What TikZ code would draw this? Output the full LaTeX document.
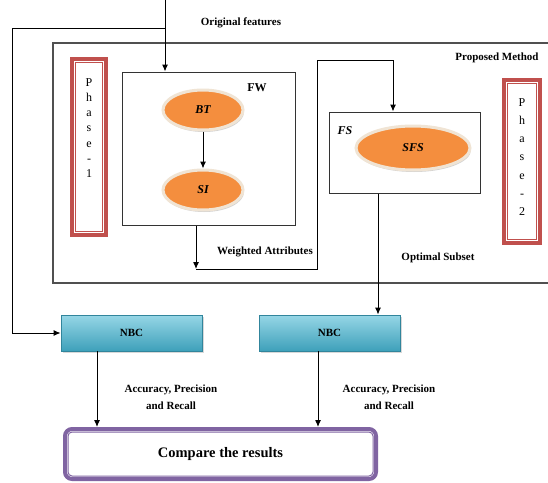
\documentclass[tikz,border=0pt]{standalone}
\usepackage{fontspec}
\setmainfont{Liberation Serif}
\usetikzlibrary{arrows.meta,shapes.geometric,shadows,calc}
\definecolor{orng}{RGB}{244,142,62}
\definecolor{rim}{RGB}{240,228,212}
\definecolor{phred}{RGB}{192,80,77}
\definecolor{purp}{RGB}{128,100,162}
\definecolor{tealL}{RGB}{150,214,230}
\definecolor{tealD}{RGB}{62,160,186}
\definecolor{tealB}{RGB}{49,133,156}
\definecolor{frame}{RGB}{80,80,80}
\begin{document}
\begin{tikzpicture}[x=1pt,y=-1pt,
  arr/.style={-{Latex[length=7pt,width=6pt]}, line width=1pt},
  ln/.style={line width=1pt},
  lbl/.style={font=\fontsize{11}{13}\selectfont\bfseries, inner sep=0pt, align=center},
  oval/.style={ellipse, fill=orng, draw=rim, line width=3pt, inner sep=0pt,
     font=\fontsize{12}{14}\selectfont\bfseries\itshape,
     drop shadow={shadow xshift=1pt, shadow yshift=-2pt, fill=black!35}},
  pbox/.style={draw=black!80, line width=1pt, fill=white, inner sep=0pt},
  phbox/.style={draw=phred, line width=4.5pt, fill=white, inner sep=0pt},
  nbc/.style={top color=tealL, bottom color=tealD, draw=tealB, line width=0.8pt,
     inner sep=0pt, minimum width=141pt, minimum height=36pt,
     font=\fontsize{11}{13}\selectfont\bfseries,
     drop shadow={shadow xshift=1.5pt, shadow yshift=-1.5pt, fill=black!30}},
  cmp/.style={draw=purp, line width=4pt, rounded corners=7pt, fill=white, inner sep=0pt,
     minimum width=311pt, minimum height=50pt, font=\fontsize{14.5}{17}\selectfont\bfseries},
  phtxt/.style={inner sep=0pt, align=center}
]
\useasboundingbox (0,0) rectangle (548,482);

% proposed method frame (open to the right)
\coordinate (pmTR) at (548,43);
\coordinate (pmTL) at (53,43);
\coordinate (pmBL) at (53,283);
\coordinate (pmBR) at (548,283);
\draw[draw=frame, line width=1.2pt] (pmTR) -- (pmTL) -- (pmBL) -- (pmBR);

% phase boxes
\node[phbox, minimum width=34pt, minimum height=176pt] (ph1) at (89,147) {};
\draw[phred, line width=1pt] ($(ph1.north west)+(5.5pt,-5.5pt)$) rectangle ($(ph1.south east)+(-5.5pt,5.5pt)$);
\node[phtxt, font=\fontsize{12}{15.3}\selectfont] (ph1t) at (89,128) {P\\h\\a\\s\\e\\-\\1};

\node[phbox, minimum width=36pt, minimum height=163pt] (ph2) at (522,161.5) {};
\draw[phred, line width=1pt] ($(ph2.north west)+(5.5pt,-5.5pt)$) rectangle ($(ph2.south east)+(-5.5pt,5.5pt)$);
\node[phtxt, font=\fontsize{12}{18.3}\selectfont] (ph2t) at (522,157) {P\\h\\a\\s\\e\\-\\2};

% FW box
\node[pbox, minimum width=173pt, minimum height=153pt] (fw) at (208.5,148.5) {};
\node[lbl, font=\fontsize{12}{14}\selectfont\bfseries] (fwl) at (257,88) {FW};
\node[oval, minimum width=80pt, minimum height=40pt] (bt) at (203,110) {BT};
\node[oval, minimum width=80pt, minimum height=40pt] (si) at (203,190) {SI};
\draw[arr] (bt) -- (si);

% FS box
\node[pbox, minimum width=151pt, minimum height=81pt] (fs) at (404.5,152.5) {};
\node[lbl, font=\fontsize{12}{14}\selectfont\bfseries\itshape] (fsl) at (345,131) {FS};
\node[oval, minimum width=114pt, minimum height=44pt] (sfs) at (413,148) {SFS};

% NBC boxes
\node[nbc] (nbc1) at (131.5,333) {NBC};
\node[nbc] (nbc2) at (329.5,333) {NBC};

% compare box
\node[cmp] (cmp) at (220.5,454) {Compare the results};
\draw[purp, line width=1pt, rounded corners=4pt] ($(cmp.north west)+(5pt,-5pt)$) rectangle ($(cmp.south east)+(-5pt,5pt)$);

% labels
\node[lbl] (of) at (241,23) {Original features};
\node[lbl] (pm) at (497,58) {Proposed Method};
\node[lbl] (wat) at (265,252) {Weighted Attributes};
\node[lbl] (os) at (438,258) {Optimal Subset};
\node[lbl, font=\fontsize{11}{17}\selectfont\bfseries] (acc1) at (171,397) {Accuracy, Precision\\and Recall};
\node[lbl, font=\fontsize{11}{17}\selectfont\bfseries] (acc2) at (389,397) {Accuracy, Precision\\and Recall};

% connectors
\coordinate (top) at (165,0);
\coordinate (c1) at (12,28);
\draw[arr] (top) -- (top |- fw.north);
\draw[ln] (top |- c1) -- (c1) -- (c1 |- nbc1.west);
\draw[arr] (c1 |- nbc1.west) -- (nbc1.west);

\coordinate (wa) at (196,269);
\coordinate (wb) at (317,269);
\coordinate (wc) at (317,60);
\coordinate (wd) at (393,60);
\draw[arr] (wa |- fw.south) -- (wa);
\draw[ln] (wa) -- (wb) -- (wc) -- (wd);
\draw[arr] (wd) -- (wd |- fs.north);

\coordinate (fx) at (378,0);
\draw[arr] (fx |- fs.south) -- (fx |- nbc2.north);

\coordinate (n1x) at (97,0);
\coordinate (n2x) at (318,0);
\draw[arr] (n1x |- nbc1.south) -- (n1x |- cmp.north);
\draw[arr] (n2x |- nbc2.south) -- (n2x |- cmp.north);
\end{tikzpicture}
\end{document}
